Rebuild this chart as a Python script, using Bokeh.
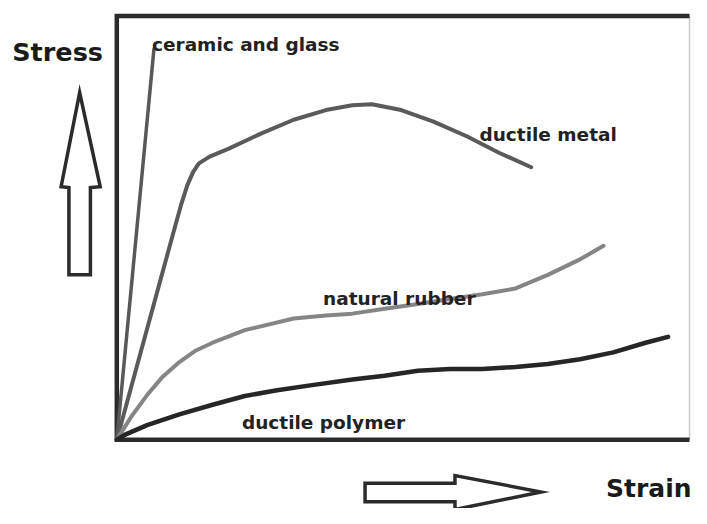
from bokeh.plotting import figure
from bokeh.models import Range1d
from bokeh.core.properties import value
from bokeh.embed import file_html
from bokeh.resources import INLINE

# ---- data (arbitrary units: strain, stress) ----
ceramic_strain = [0, 38]
ceramic_stress = [0, 403]

metal_strain = [0, 58, 66, 72, 78, 84, 95, 114, 148, 181, 214, 241, 261, 291, 324, 358, 391, 424]
metal_stress = [0, 214, 243, 262, 276, 285, 292, 300, 316, 330, 340, 345, 346, 340, 328, 313, 296, 281]

rubber_strain = [0, 15, 31, 47, 64, 81, 98, 131, 181, 214, 241, 274, 308, 341, 374, 408, 441, 474, 498]
rubber_stress = [0, 24, 46, 65, 80, 92, 100, 113, 125, 128, 130, 135, 140, 145, 150, 156, 170, 186, 200]

polymer_strain = [0, 8, 31, 64, 98, 131, 164, 198, 241, 274, 308, 341, 374, 408, 441, 474, 508, 541, 564]
polymer_stress = [0, 5, 15, 26, 36, 45, 51, 56, 62, 66, 71, 73, 73, 75, 78, 83, 90, 100, 106]

box_strain = [586, 0, 0, 586]
box_stress = [437, 437, 0, 0]
box_right_strain = [586, 586]
box_right_stress = [0, 437]

labels = ["ceramic and glass", "ductile metal", "natural rubber", "ductile polymer"]
label_strain = [36, 371, 211, 128]
label_stress = [408, 315, 146, 18]

up_arrow_x = [-38, -57, -49, -49, -27, -27, -17]
up_arrow_y = [358, 261, 260, 170, 170, 260, 261]
right_arrow_x = [254, 346, 346, 434, 346, 346, 254]
right_arrow_y = [-45, -45, -37, -54, -72, -64, -64]

W, H = 691, 508
p = figure(width=W, height=H, output_backend="svg", toolbar_location=None,
           x_axis_location=None, y_axis_location=None, min_border=0,
           x_range=Range1d(-119, 588), y_range=Range1d(-71, 453))
p.grid.visible = False
p.outline_line_color = None
p.background_fill_color = "white"

p.line(box_right_strain, box_right_stress, line_color="#c8c8c8", line_width=1.5)
p.line(box_strain, box_stress, line_color="#2b2b2b", line_width=4.5, line_join="miter")

p.line(ceramic_strain, ceramic_stress, line_color="#585858", line_width=3.5, line_cap="round")
p.line(metal_strain, metal_stress, line_color="#5a5a5a", line_width=4, line_join="round", line_cap="round")
p.line(rubber_strain, rubber_stress, line_color="#858585", line_width=4, line_join="round", line_cap="round")
p.line(polymer_strain, polymer_stress, line_color="#262626", line_width=4.5, line_join="round", line_cap="round")

p.patch(up_arrow_x, up_arrow_y, fill_color="white", line_color="#2b2b2b", line_width=3.5, line_join="miter")
p.patch(right_arrow_x, right_arrow_y, fill_color="white", line_color="#2b2b2b", line_width=3.5, line_join="miter")

p.text(label_strain, label_stress, text=labels, text_font=value("DejaVu Sans"),
       text_font_style="bold", text_font_size="18.5px", text_color="#222222",
       text_baseline="alphabetic", text_align="left")

p.text([-107], [400], text=["Stress"], text_font=value("DejaVu Sans"),
       text_font_style="bold", text_font_size="25.5px", text_color="#1a1a1a",
       text_baseline="alphabetic", text_align="left")
p.text([588], [-50], text=["Strain"], text_font=value("DejaVu Sans"),
       text_font_style="bold", text_font_size="25px", text_color="#1a1a1a",
       text_baseline="alphabetic", text_align="right")

open("out.html", "w").write(file_html(p, INLINE))
